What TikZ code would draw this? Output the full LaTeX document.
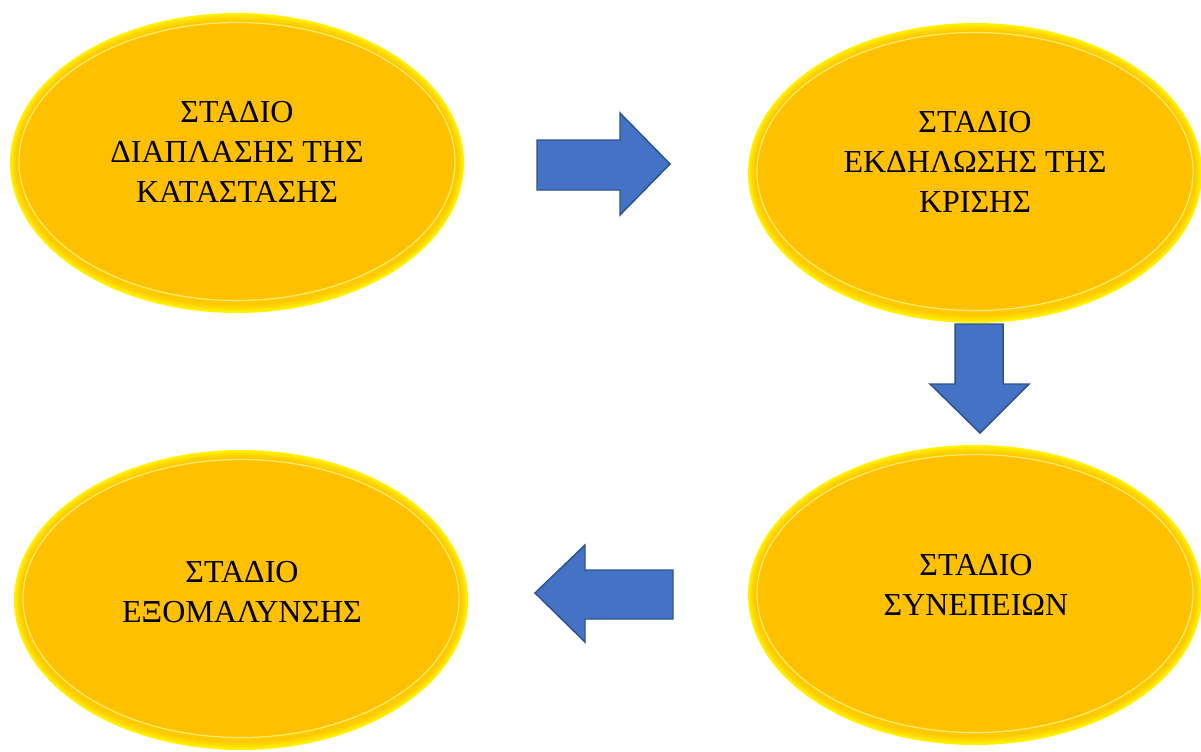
\documentclass[tikz,border=0pt]{standalone}
\usepackage{fontspec}
\setmainfont{Liberation Serif}
\usetikzlibrary{calc}
\definecolor{glowyellow}{HTML}{FFF200}
\definecolor{bandone}{HTML}{FFE400}
\definecolor{bandtwo}{HTML}{FFD400}
\definecolor{bandthree}{HTML}{FFC900}
\definecolor{coregold}{HTML}{FFC000}
\definecolor{rimlight}{HTML}{FFEE70}
\definecolor{arrowfill}{HTML}{4472C4}
\definecolor{arrowline}{HTML}{2F528F}
\tikzset{
  glowout/.style={fill=glowyellow},
  core/.style={fill=coregold, draw=rimlight, line width=0.9pt},
  blockarrow/.style={fill=arrowfill, draw=arrowline, line width=1.1pt, line join=miter},
  stagetext/.style={align=center, text=black, inner sep=0pt, font=\fontsize{24}{30}\selectfont}
}
\newcommand{\stageoval}[1]{%
  \fill[glowout] (#1) ellipse [x radius=170.25pt, y radius=112.5pt];
  \fill[bandone] (#1) ellipse [x radius=169pt, y radius=111pt];
  \fill[bandtwo] (#1) ellipse [x radius=167.5pt, y radius=109.3pt];
  \fill[bandthree] (#1) ellipse [x radius=165.8pt, y radius=107.3pt];
  \path[core] ($(#1)+(0,-1.5)$) ellipse [x radius=163.5pt, y radius=104.25pt];
}
\begin{document}
\begin{tikzpicture}[x=0.75pt,y=-0.75pt]
\useasboundingbox (0,0) rectangle (1201,751);
\fill[white] (0,0) rectangle (1201,751);
% ellipse centres
\coordinate (c1) at (237,163);
\coordinate (c2) at (975,173);
\coordinate (c3) at (975,595);
\coordinate (c4) at (241,600);
\stageoval{c1}
\stageoval{c2}
\stageoval{c3}
\stageoval{c4}
% texts
\node[stagetext] (t1) at (237,151.5) {ΣΤΑΔΙΟ\\ΔΙΑΠΛΑΣΗΣ ΤΗΣ\\ΚΑΤΑΣΤΑΣΗΣ};
\node[stagetext] (t2) at (975,161.5) {ΣΤΑΔΙΟ\\ΕΚΔΗΛΩΣΗΣ ΤΗΣ\\ΚΡΙΣΗΣ};
\node[stagetext] (t3) at (976,584.5) {ΣΤΑΔΙΟ\\ΣΥΝΕΠΕΙΩΝ};
\node[stagetext] (t4) at (242,592.5) {ΣΤΑΔΙΟ\\ΕΞΟΜΑΛΥΝΣΗΣ};
% block arrows
\draw[blockarrow] (537,140) -- (620,140) -- (620,113) -- (670,164) -- (620,215) -- (620,190) -- (537,190) -- cycle;
\draw[blockarrow] (955,324) -- (1003,324) -- (1003,384) -- (1029,384) -- (980,433) -- (930,384) -- (955,384) -- cycle;
\draw[blockarrow] (673,570) -- (585,570) -- (585,545) -- (535,593) -- (585,642) -- (585,619) -- (673,619) -- cycle;
\end{tikzpicture}
\end{document}
